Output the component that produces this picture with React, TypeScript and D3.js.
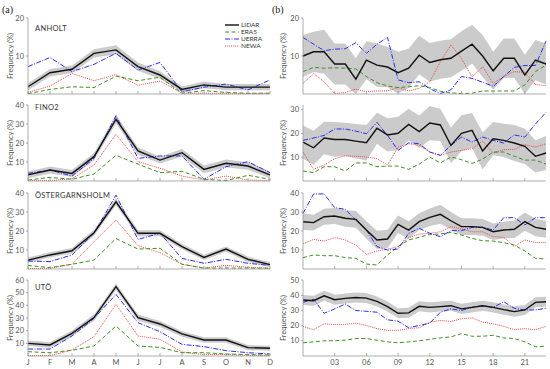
import * as d3 from 'd3';

// months (left column) and hours (right column)
const months = ['J', 'F', 'M', 'A', 'M', 'J', 'J', 'A', 'S', 'O', 'N', 'D'];
const hourTicks = [3, 6, 9, 12, 15, 18, 21];
const hourLabels = ['03', '06', '09', '12', '15', '18', '21'];

const seriesNames = ['LIDAR', 'ERA5', 'UERRA', 'NEWA'];
const stations = ['ANHOLT', 'FINO2', 'ÖSTERGARNSHOLM', 'UTÖ'];

// (a) monthly frequency (%)
const anholtMonthLidar = [1.9, 5.6, 6.5, 10.7, 11.6, 7.2, 5.0, 1.2, 2.4, 1.8, 1.8, 1.8];
const anholtMonthEra5 = [0.1, 1.2, 1.9, 1.7, 4.7, 3.5, 4.4, 0.2, 0.9, 0.4, 0.2, 0.2];
const anholtMonthUerra = [7.2, 9.6, 5.9, 7.8, 10.7, 6.3, 8.3, 0.6, 1.8, 2.6, 1.1, 3.7];
const anholtMonthNewa = [0.4, 2.1, 5.4, 3.5, 5.1, 2.3, 3.4, 0.2, 0.2, 0.1, 0.1, 0.2];
const anholtMonthSpread = [0.9, 1.0, 1.0, 1.1, 1.2, 1.1, 1.0, 0.8, 0.9, 0.8, 0.8, 0.8];

const fino2MonthLidar = [3.2, 5.8, 4.0, 12.8, 32.5, 15.8, 11.0, 14.9, 6.1, 9.3, 7.9, 3.2];
const fino2MonthEra5 = [0.5, 1.9, 0.9, 3.7, 13.5, 8.9, 4.4, 5.1, 0.9, 0.2, 3.0, 0.9];
const fino2MonthUerra = [4.0, 5.8, 2.6, 11.9, 34.4, 11.9, 13.2, 13.2, 0.9, 7.5, 10.2, 4.4];
const fino2MonthNewa = [0.2, 0.2, 1.2, 8.4, 24.6, 10.2, 6.7, 2.6, 0.5, 2.6, 0.5, 0.2];
const fino2MonthSpread = [1.8, 1.8, 1.8, 2.0, 2.2, 2.0, 1.8, 2.0, 2.0, 2.0, 2.0, 1.8];

const ostMonthLidar = [4.7, 7.4, 9.6, 19.1, 35.4, 18.8, 18.8, 11.8, 6.1, 10.5, 5.1, 2.3];
const ostMonthEra5 = [1.9, 0.7, 2.5, 4.7, 16.0, 10.5, 10.9, 2.5, 0.5, 0.5, 0.5, 0.4];
const ostMonthUerra = [4.2, 3.9, 7.4, 18.8, 38.9, 15.6, 18.8, 5.6, 3.0, 5.1, 3.0, 1.9];
const ostMonthNewa = [0.2, 0.4, 2.5, 14.4, 25.8, 12.3, 8.6, 2.5, 0.5, 1.9, 0.9, 0.4];
const ostMonthSpread = [1.4, 1.4, 1.4, 1.6, 1.8, 1.6, 1.6, 1.4, 1.4, 1.4, 1.4, 1.2];

const utoMonthLidar = [10.0, 8.7, 17.9, 30.3, 54.7, 30.3, 25.3, 17.4, 12.6, 12.6, 6.6, 6.1];
const utoMonthEra5 = [3.4, 2.6, 4.5, 7.9, 23.7, 7.9, 6.8, 2.6, 2.6, 1.6, 1.1, 0.8];
const utoMonthUerra = [5.5, 5.5, 15.8, 29.7, 48.7, 26.3, 19.2, 9.2, 7.4, 4.2, 2.6, 1.6];
const utoMonthNewa = [0.3, 0.3, 4.7, 15.3, 40.8, 15.8, 13.2, 3.2, 1.1, 1.1, 0.5, 0.3];
const utoMonthSpread = [2.2, 2.2, 2.2, 2.4, 2.6, 2.4, 2.4, 2.2, 2.2, 2.2, 2.0, 2.0];

// (b) hourly frequency (%)
const anholtHourLidar = [10.0, 11.1, 11.1, 7.9, 7.9, 3.9, 8.9, 7.6, 7.1, 5.6, 6.8, 10.2, 8.3, 9.0, 9.4, 11.3, 13.1, 10.0, 6.1, 9.4, 9.4, 5.0, 8.9, 7.9];
const anholtHourEra5 = [5.9, 7.0, 6.8, 6.9, 6.8, 6.6, 4.6, 3.0, 2.1, 1.7, 1.9, 2.2, 1.7, 0.7, 0.3, 0.1, 0.2, 0.8, 0.8, 0.8, 0.8, 2.4, 5.9, 7.6];
const anholtHourUerra = [14.9, 13.1, 11.4, 11.8, 11.9, 13.5, 10.7, 13.1, 14.9, 3.7, 3.0, 3.2, 1.4, 0.1, 1.1, 4.6, 4.1, 3.1, 2.0, 4.6, 7.0, 7.5, 7.5, 13.9];
const anholtHourNewa = [2.8, 5.4, 3.2, 0.1, 0.4, 1.3, 0.6, 0.8, 0.8, 1.7, 0.8, 1.5, 3.2, 8.5, 12.9, 9.4, 4.4, 7.2, 2.8, 4.6, 5.9, 5.7, 2.5, 2.2];
const anholtHourSpread = [5.5, 5.3, 5.8, 5.4, 5.4, 5.5, 5.0, 5.7, 5.3, 5.5, 5.2, 5.1, 5.1, 5.0, 5.0, 5.2, 5.1, 5.5, 5.0, 5.2, 5.2, 5.3, 5.3, 5.4];

const fino2HourLidar = [16.4, 14.0, 18.1, 17.5, 17.5, 16.8, 16.1, 22.2, 19.4, 20.1, 23.8, 20.8, 24.4, 23.6, 15.0, 20.1, 21.3, 12.6, 17.8, 17.1, 16.0, 14.6, 10.4, 11.8];
const fino2HourEra5 = [4.2, 3.5, 6.0, 6.0, 4.2, 7.6, 7.6, 6.0, 6.3, 6.3, 4.9, 7.1, 10.1, 7.6, 10.1, 9.0, 7.4, 9.2, 12.2, 12.2, 10.4, 8.8, 8.8, 7.1];
const fino2HourUerra = [17.1, 18.1, 19.2, 21.9, 21.9, 21.0, 19.9, 24.7, 19.2, 12.9, 16.1, 15.7, 12.2, 10.8, 15.0, 18.5, 16.4, 18.5, 17.1, 16.0, 19.4, 18.5, 24.0, 28.9];
const fino2HourNewa = [12.2, 4.9, 6.7, 9.4, 10.6, 10.4, 10.1, 9.4, 6.7, 14.3, 15.7, 15.0, 12.2, 10.8, 12.2, 12.9, 13.6, 16.8, 11.8, 13.2, 13.3, 15.3, 14.3, 15.7];
const fino2HourSpread = [7.0, 7.2, 6.8, 7.3, 7.0, 7.2, 7.5, 6.5, 7.0, 7.0, 6.6, 6.8, 7.2, 6.8, 7.5, 7.6, 7.3, 7.8, 7.0, 7.0, 7.6, 7.4, 6.8, 7.2];

const ostHourLidar = [24.9, 24.4, 27.5, 27.9, 26.7, 26.1, 20.5, 15.3, 15.8, 23.5, 20.5, 24.9, 27.2, 28.8, 25.4, 22.3, 22.3, 21.9, 19.6, 20.5, 20.9, 24.9, 21.9, 20.9];
const ostHourEra5 = [6.0, 7.4, 7.0, 7.0, 6.0, 5.6, 2.6, 2.1, 7.4, 11.8, 15.3, 16.7, 18.2, 18.4, 19.3, 17.9, 16.1, 14.9, 14.7, 13.9, 12.6, 9.5, 5.6, 5.3];
const ostHourUerra = [29.3, 39.5, 39.5, 32.3, 31.4, 25.8, 20.5, 11.8, 10.0, 10.5, 18.8, 21.4, 18.8, 17.0, 20.2, 20.2, 21.9, 21.9, 20.5, 27.0, 27.0, 23.2, 27.0, 27.0];
const ostHourNewa = [13.2, 15.6, 14.7, 16.5, 15.3, 12.6, 7.7, 9.5, 10.4, 11.8, 16.5, 18.4, 18.8, 19.6, 22.3, 21.1, 19.6, 19.6, 17.0, 16.7, 11.8, 15.3, 13.9, 14.0];
const ostHourSpread = [4.4, 4.2, 4.2, 4.2, 4.4, 4.4, 4.6, 4.8, 4.8, 4.6, 4.6, 4.4, 4.6, 5.0, 4.6, 4.4, 4.4, 4.4, 4.4, 4.4, 4.6, 4.8, 4.6, 4.4];

const utoHourLidar = [36.8, 36.4, 39.6, 37.0, 37.9, 38.5, 38.1, 35.9, 32.5, 28.1, 28.4, 32.7, 32.0, 32.5, 33.1, 31.0, 32.0, 33.1, 32.0, 30.5, 29.2, 30.3, 35.3, 35.7];
const utoHourEra5 = [8.7, 9.3, 10.0, 10.0, 10.4, 11.5, 11.5, 10.4, 9.3, 8.7, 9.3, 10.0, 11.0, 11.9, 12.6, 14.7, 13.0, 13.0, 13.6, 11.9, 11.5, 9.3, 6.1, 6.5];
const utoHourUerra = [35.3, 37.4, 28.1, 31.0, 34.2, 29.9, 29.4, 28.8, 23.8, 22.9, 18.6, 20.1, 21.6, 28.8, 31.0, 29.9, 32.0, 33.1, 32.0, 35.7, 31.4, 30.3, 30.3, 31.4];
const utoHourNewa = [19.5, 17.3, 21.2, 20.6, 20.8, 21.6, 20.1, 18.0, 16.9, 16.9, 18.0, 18.6, 22.3, 23.4, 22.7, 24.5, 25.1, 22.3, 21.2, 19.5, 17.3, 18.0, 17.3, 19.5];
const utoHourSpread = [3.3, 3.3, 3.3, 3.3, 3.3, 3.3, 3.3, 3.3, 3.3, 3.3, 3.3, 3.3, 3.3, 3.3, 3.3, 3.3, 3.3, 3.3, 3.3, 3.3, 3.3, 3.3, 3.3, 3.3];

const monthPanels = [
  { lidar: anholtMonthLidar, era5: anholtMonthEra5, uerra: anholtMonthUerra, newa: anholtMonthNewa, spread: anholtMonthSpread, max: 20, ticks: [10, 20] },
  { lidar: fino2MonthLidar, era5: fino2MonthEra5, uerra: fino2MonthUerra, newa: fino2MonthNewa, spread: fino2MonthSpread, max: 40, ticks: [10, 20, 30, 40] },
  { lidar: ostMonthLidar, era5: ostMonthEra5, uerra: ostMonthUerra, newa: ostMonthNewa, spread: ostMonthSpread, max: 40, ticks: [10, 20, 30, 40] },
  { lidar: utoMonthLidar, era5: utoMonthEra5, uerra: utoMonthUerra, newa: utoMonthNewa, spread: utoMonthSpread, max: 60, ticks: [10, 20, 30, 40, 50, 60] },
];

const hourPanels = [
  { lidar: anholtHourLidar, era5: anholtHourEra5, uerra: anholtHourUerra, newa: anholtHourNewa, spread: anholtHourSpread, max: 20, ticks: [10, 20] },
  { lidar: fino2HourLidar, era5: fino2HourEra5, uerra: fino2HourUerra, newa: fino2HourNewa, spread: fino2HourSpread, max: 32, ticks: [10, 20, 30] },
  { lidar: ostHourLidar, era5: ostHourEra5, uerra: ostHourUerra, newa: ostHourNewa, spread: ostHourSpread, max: 40, ticks: [10, 20, 30, 40] },
  { lidar: utoHourLidar, era5: utoHourEra5, uerra: utoHourUerra, newa: utoHourNewa, spread: utoHourSpread, max: 50, ticks: [10, 20, 30, 40, 50] },
];

const styles: Record<string, { color: string; width: number; dash: string }> = {
  LIDAR: { color: '#111111', width: 1.4, dash: '' },
  ERA5: { color: '#3f8f24', width: 1, dash: '4,2.5' },
  UERRA: { color: '#2b2bf0', width: 1, dash: '5,1.5,1,1.5' },
  NEWA: { color: '#f04848', width: 1, dash: '1,1' },
};

const W = 550;
const H = 369;
const panelTops = [18, 105, 193, 280];
const panelH = 76;
const font = 'Lato, "Open Sans", sans-serif';
const axisColor = '#9a9a9a';
const textColor = '#555';

function Panel({ p, row, col }: { p: typeof monthPanels[0]; row: number; col: number }) {
  const top = panelTops[row];
  const bottom = top + panelH;
  const n = p.lidar.length;
  const x = col === 0
    ? d3.scaleLinear().domain([0, 11]).range([28, 270])
    : d3.scaleLinear().domain([0, 23]).range([303, 546]);
  const y = d3.scaleLinear().domain([0, p.max]).range([bottom, top]);
  const idx = d3.range(n);

  const band = d3.area<number>()
    .x((i) => x(i))
    .y0((i) => y(Math.max(0, p.lidar[i] - p.spread[i])))
    .y1((i) => y(Math.min(p.max, p.lidar[i] + p.spread[i])));
  const line = (vals: number[]) => d3.line<number>().x((i) => x(i)).y((i) => y(vals[i]))(idx) || '';

  const series: [string, number[]][] = [
    ['NEWA', p.newa],
    ['ERA5', p.era5],
    ['UERRA', p.uerra],
    ['LIDAR', p.lidar],
  ];

  const xTicks = col === 0 ? d3.range(12) : hourTicks;
  const axisX = col === 0 ? 28 : 303;
  const labelX = col === 0 ? 13 : 286;

  return (
    <g>
      <path d={band(idx) || ''} fill="#cbcbcb" />
      {series.map(([name, vals]) => (
        <path
          key={name}
          d={line(vals)}
          fill="none"
          stroke={styles[name].color}
          strokeWidth={styles[name].width}
          strokeDasharray={styles[name].dash}
        />
      ))}
      {/* axes */}
      <line x1={axisX} x2={axisX} y1={top} y2={bottom} stroke={axisColor} strokeWidth={0.8} />
      <line x1={axisX} x2={x.range()[1]} y1={bottom} y2={bottom} stroke={axisColor} strokeWidth={0.8} />
      {p.ticks.map((t) => (
        <g key={t}>
          <line x1={axisX - 2} x2={axisX} y1={y(t)} y2={y(t)} stroke={axisColor} strokeWidth={0.8} />
          <text x={axisX - 4} y={y(t)} dy="0.35em" textAnchor="end" fontSize={7.5} fill={textColor} fontFamily={font}>
            {t}
          </text>
        </g>
      ))}
      {xTicks.map((t, i) => (
        <g key={t}>
          <line x1={x(t)} x2={x(t)} y1={bottom} y2={bottom - 3} stroke={axisColor} strokeWidth={0.8} />
          {row === 3 && (
            <text x={x(t)} y={bottom + 9} textAnchor="middle" fontSize={7.5} fill={textColor} fontFamily={font}>
              {col === 0 ? months[i] : hourLabels[i]}
            </text>
          )}
        </g>
      ))}
      <text
        transform={`translate(${labelX},${(top + bottom) / 2}) rotate(-90)`}
        textAnchor="middle"
        fontSize={7.5}
        fill={textColor}
        fontFamily={font}
      >
        Frequency (%)
      </text>
    </g>
  );
}

export default function App() {
  const stationY = [28, 107, 195, 287];
  return (
    <svg width={W} height={H} style={{ position: 'absolute', left: 0, top: 0, display: 'block', background: '#fff' }}>
      <rect width={W} height={H} fill="#fff" />
      <text x={2} y={13} fontSize={10} fontFamily="'Liberation Serif', serif" fill="#222">(a)</text>
      <text x={272} y={13} fontSize={10} fontFamily="'Liberation Serif', serif" fill="#222">(b)</text>
      {monthPanels.map((p, r) => (
        <Panel key={'a' + r} p={p} row={r} col={0} />
      ))}
      {hourPanels.map((p, r) => (
        <Panel key={'b' + r} p={p} row={r} col={1} />
      ))}
      {stations.map((s, i) => (
        <text key={s} x={35} y={stationY[i]} dy="0.35em" fontSize={7.5} fill="#333" fontFamily={font} letterSpacing={0.3}>
          {s}
        </text>
      ))}
      {/* legend */}
      {seriesNames.map((name, i) => (
        <g key={name}>
          <line
            x1={225}
            x2={239}
            y1={25 + i * 7}
            y2={25 + i * 7}
            stroke={styles[name].color}
            strokeWidth={styles[name].width}
            strokeDasharray={styles[name].dash}
          />
          <text x={241} y={25 + i * 7} dy="0.35em" fontSize={6.5} fill="#333" fontFamily={font}>
            {name}
          </text>
        </g>
      ))}
    </svg>
  );
}
